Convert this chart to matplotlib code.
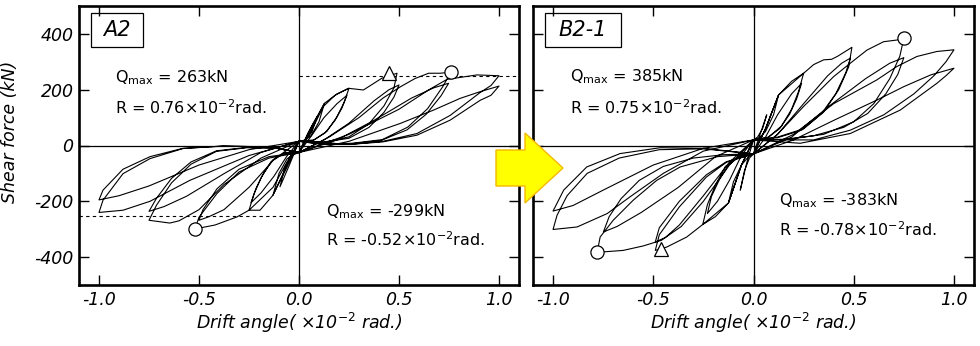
import matplotlib
matplotlib.use('Agg')
import matplotlib.pyplot as plt
from matplotlib.patches import Polygon, Rectangle

plt.rcParams['font.family'] = ['DejaVu Sans']
plt.rcParams['mathtext.fontset'] = 'dejavusans'
plt.rcParams['axes.unicode_minus'] = False

# ---- data: drift angle (x10^-2 rad) vs shear force (kN) ----
x_ticks = [-1.0, -0.5, 0.0, 0.5, 1.0]
x_tick_labels = ['-1.0', '-0.5', '0.0', '0.5', '1.0']
y_ticks = [-400, -200, 0, 200, 400]
y_tick_labels = ['-400', '-200', '0', '200', '400']

# specimen A2, one list per loading cycle
a2_c1 = [(0, -25), (0.045, 45), (0.09, 103), (0.065, 50), (0.035, 20), (0, 15),
         (-0.048, -70), (-0.095, -148), (-0.07, -75), (-0.035, -35), (0, -25)]
a2_c2 = [(0, -25), (0.064, 70), (0.127, 151), (0.1, 85), (0.06, 35), (0.025, 18), (0, 15),
         (-0.065, -85), (-0.13, -178), (-0.1, -100), (-0.06, -48), (-0.025, -30), (0, -25)]
a2_c3 = [(0, -25), (0.06, 55), (0.127, 151), (0.19, 185), (0.25, 205), (0.225, 154), (0.19, 103),
         (0.14, 51), (0.075, 20), (0, 15),
         (-0.06, -70), (-0.13, -178), (-0.195, -232), (-0.25, -232), (-0.225, -174), (-0.19, -116),
         (-0.14, -58), (-0.075, -28), (0, -25)]
a2_c4 = [(0, -25), (0.0625, 35), (0.125, 100), (0.19, 150), (0.24, 180), (0.215, 135), (0.18, 90),
         (0.13, 45), (0.07, 18), (0, 15),
         (-0.0625, -40), (-0.125, -110), (-0.19, -170), (-0.24, -205), (-0.215, -154), (-0.18, -103),
         (-0.13, -51), (-0.07, -25), (0, -25)]
a2_c5 = [(0, -25), (0.06, 50), (0.122, 140), (0.18, 180), (0.247, 205), (0.322, 199), (0.414, 241),
         (0.49, 259), (0.475, 207), (0.425, 142), (0.35, 78), (0.25, 31), (0.125, 12), (0, 15),
         (-0.06, -60), (-0.13, -150), (-0.25, -232), (-0.31, -256), (-0.42, -285), (-0.52, -299),
         (-0.5, -257), (-0.41, -172), (-0.3, -95), (-0.15, -45), (0, -25)]
a2_c6 = [(0, -25), (0.125, 20), (0.25, 80), (0.375, 160), (0.45, 200), (0.5, 217),
         (0.475, 174), (0.425, 119), (0.35, 65), (0.25, 26), (0.125, 12), (0, 15),
         (-0.125, -50), (-0.25, -150), (-0.375, -230), (-0.45, -255), (-0.5, -268),
         (-0.48, -230), (-0.41, -155), (-0.3, -85), (-0.15, -40), (0, -25)]
a2_c7 = [(0, -25), (0.15, 30), (0.3, 100), (0.42, 170), (0.506, 210), (0.58, 240), (0.648, 259),
         (0.706, 259), (0.76, 263),
         (0.718, 210), (0.643, 132), (0.544, 66), (0.416, 21), (0.265, 8), (0.113, 5), (0, 15),
         (-0.19, -45), (-0.375, -140), (-0.5, -230), (-0.6, -270), (-0.646, -278), (-0.75, -268),
         (-0.7125, -214), (-0.6375, -134), (-0.54, -67), (-0.4125, -21), (-0.2625, -8),
         (-0.1125, -10), (0, -25)]
a2_c8 = [(0, -25), (0.19, 20), (0.375, 90), (0.5625, 170), (0.675, 207), (0.748, 223),
         (0.71, 178), (0.636, 112), (0.54, 56), (0.41, 18), (0.26, 6), (0.11, 5), (0, 15),
         (-0.19, -25), (-0.375, -101), (-0.5625, -182), (-0.675, -219), (-0.75, -236),
         (-0.7125, -189), (-0.6375, -118), (-0.54, -59), (-0.4125, -19), (-0.2625, -7),
         (-0.1125, -8), (0, -25)]
a2_c9 = [(0, -25), (0.25, 40), (0.5, 130), (0.65, 200), (0.74, 237), (0.89, 253), (1.0, 250),
         (0.96, 215), (0.906, 190), (0.756, 108), (0.59, 43), (0.42, 15), (0.255, 4), (0, 15),
         (-0.25, -36), (-0.546, -125), (-0.745, -200), (-0.88, -232), (-1.0, -240),
         (-0.98, -196), (-0.88, -101), (-0.745, -47), (-0.58, -11), (-0.38, -2), (-0.15, -5), (0, -25)]
a2_c10 = [(0, -25), (0.25, 15), (0.506, 79), (0.673, 127), (0.806, 169), (0.906, 193), (1.0, 213),
          (0.96, 180), (0.906, 162), (0.756, 91), (0.59, 37), (0.42, 13), (0.255, 4), (0, 15),
          (-0.25, -15), (-0.5, -70), (-0.75, -145), (-0.9, -180), (-1.0, -195),
          (-0.98, -160), (-0.88, -85), (-0.745, -40), (-0.58, -10), (-0.38, -2), (-0.15, -5), (0, -25)]

# specimen B2-1
b2_c1 = [(0, -30), (0.033, 40), (0.066, 110), (0.045, 60), (0.02, 30), (0, 20),
         (-0.033, -60), (-0.066, -160), (-0.045, -90), (-0.02, -45), (0, -30)]
b2_c2 = [(0, -30), (0.06, 60), (0.125, 181), (0.1, 110), (0.06, 50), (0.025, 25), (0, 20),
         (-0.06, -70), (-0.125, -206), (-0.1, -130), (-0.06, -70), (-0.025, -40), (0, -30)]
b2_c3 = [(0, -30), (0.06, 60), (0.125, 181), (0.19, 230), (0.25, 259), (0.225, 194), (0.19, 130),
         (0.14, 70), (0.075, 30), (0, 20),
         (-0.06, -70), (-0.125, -206), (-0.19, -255), (-0.253, -283), (-0.23, -212), (-0.19, -142),
         (-0.14, -75), (-0.075, -40), (0, -30)]
b2_c4 = [(0, -30), (0.06, 30), (0.12, 110), (0.19, 185), (0.24, 223), (0.215, 167), (0.18, 112),
         (0.13, 60), (0.07, 28), (0, 20),
         (-0.06, -35), (-0.12, -125), (-0.18, -200), (-0.23, -244), (-0.21, -183), (-0.17, -122),
         (-0.125, -70), (-0.07, -40), (0, -30)]
b2_c5 = [(0, -30), (0.06, 60), (0.125, 181), (0.25, 259), (0.3, 290), (0.35, 307), (0.39, 309),
         (0.42, 320), (0.491, 352),
         (0.475, 282), (0.425, 200), (0.35, 120), (0.25, 60), (0.12, 30), (0, 20),
         (-0.06, -70), (-0.125, -206), (-0.253, -283), (-0.333, -328), (-0.433, -364), (-0.49, -376),
         (-0.47, -320), (-0.37, -220), (-0.235, -113), (-0.135, -60), (0, -30)]
b2_c6 = [(0, -30), (0.12, 40), (0.25, 150), (0.37, 250), (0.44, 295), (0.483, 313),
         (0.46, 260), (0.41, 185), (0.34, 115), (0.24, 55), (0.12, 28), (0, 20),
         (-0.12, -60), (-0.25, -180), (-0.37, -285), (-0.44, -330), (-0.49, -346),
         (-0.47, -295), (-0.37, -200), (-0.235, -105), (-0.135, -58), (0, -30)]
b2_c7 = [(0, -30), (0.12, 40), (0.25, 140), (0.4, 247), (0.483, 295), (0.566, 342), (0.649, 372),
         (0.715, 378), (0.75, 385),
         (0.73, 320), (0.68, 240), (0.6, 150), (0.5, 85), (0.35, 40), (0.17, 22), (0, 20),
         (-0.12, -70), (-0.25, -200), (-0.36, -290), (-0.46, -340), (-0.55, -360), (-0.65, -376),
         (-0.78, -383),
         (-0.765, -328), (-0.7, -268), (-0.6, -196), (-0.483, -125), (-0.366, -77), (-0.18, -40), (0, -30)]
b2_c8 = [(0, -30), (0.19, 30), (0.375, 140), (0.56, 240), (0.68, 295), (0.75, 315),
         (0.72, 255), (0.66, 185), (0.57, 115), (0.45, 65), (0.3, 35), (0.15, 22), (0, 20),
         (-0.19, -40), (-0.375, -150), (-0.56, -240), (-0.68, -290), (-0.749, -310),
         (-0.72, -255), (-0.66, -190), (-0.57, -125), (-0.45, -75), (-0.3, -45), (-0.15, -33), (0, -30)]
b2_c9 = [(0, -30), (0.2, 40), (0.4, 150), (0.615, 235), (0.715, 283), (0.815, 319), (0.915, 337),
         (1.0, 343),
         (0.96, 300), (0.9, 250), (0.8, 185), (0.65, 110), (0.483, 55), (0.3, 20), (0, 20),
         (-0.25, -20), (-0.45, -100), (-0.616, -184), (-0.73, -244), (-0.88, -292), (-1.0, -301),
         (-0.98, -250), (-0.93, -180), (-0.83, -100), (-0.67, -45), (-0.47, -15), (-0.25, -12), (0, -30)]
b2_c10 = [(0, -30), (0.2, 20), (0.4, 90), (0.616, 163), (0.75, 211), (0.884, 253), (1.0, 277),
          (0.96, 250), (0.915, 223), (0.732, 127), (0.483, 43), (0.233, 8), (0, 20),
          (-0.25, -10), (-0.5, -70), (-0.75, -160), (-0.9, -215), (-1.0, -235),
          (-0.947, -160), (-0.832, -77), (-0.666, -29), (-0.466, -8), (-0.25, -10), (0, -30)]

a2_cycles = [a2_c1, a2_c2, a2_c3, a2_c4, a2_c5, a2_c6, a2_c7, a2_c8, a2_c9, a2_c10]
b2_cycles = [b2_c1, b2_c2, b2_c3, b2_c4, b2_c5, b2_c6, b2_c7, b2_c8, b2_c9, b2_c10]

# max points (circles) and triangles
a2_circles = [(0.76, 263), (-0.52, -299)]
a2_triangles = [(0.45, 259)]
b2_circles = [(0.75, 385), (-0.78, -383)]
b2_triangles = [(-0.46, -370)]
a2_dash_levels = [250, -252]

a2_notes = [r'Q$_{\rm max}$ = 263kN', r'R = 0.76×10$^{-2}$rad.',
            r'Q$_{\rm max}$ = -299kN', r'R = -0.52×10$^{-2}$rad.']
b2_notes = [r'Q$_{\rm max}$ = 385kN', r'R = 0.75×10$^{-2}$rad.',
            r'Q$_{\rm max}$ = -383kN', r'R = -0.78×10$^{-2}$rad.']


fig = plt.figure(figsize=(9.8, 3.46), dpi=100)
W, H = 980.0, 346.0
ax1 = fig.add_axes([79 / W, 1 - 285 / H, 440 / W, 279 / H])
ax2 = fig.add_axes([533 / W, 1 - 285 / H, 441 / W, 279 / H])


def draw_panel(ax, cycles, circles, triangles, name, box_x1):
    xs, ys = [], []
    for cyc in cycles:
        for x, y in cyc:
            xs.append(x)
            ys.append(y)
    ax.axhline(0, color='k', lw=0.9, zorder=1)
    ax.axvline(0, color='k', lw=0.9, zorder=1)
    ax.plot(xs, ys, color='k', lw=0.8, zorder=2)
    ax.plot([p[0] for p in circles], [p[1] for p in circles], 'o', ms=9.5,
            mfc='white', mec='k', mew=0.9, zorder=3)
    ax.plot([p[0] for p in triangles], [p[1] for p in triangles], '^', ms=10,
            mfc='white', mec='k', mew=0.9, zorder=3)

    ax.set_xlim(-1.1, 1.1)
    ax.set_ylim(-500, 500)
    ax.set_xticks(x_ticks)
    ax.set_xticklabels(x_tick_labels, fontsize=12.5, style='italic')
    ax.set_yticks(y_ticks)
    ax.tick_params(direction='in', length=7, width=1, top=True, right=True, pad=4)
    for s in ax.spines.values():
        s.set_linewidth(1.9)
    ax.set_xlabel(r'Drift angle( ×10$^{\mathit{-2}}$ rad.)', fontsize=12.5, style='italic',
                  labelpad=2)

    # specimen tag in a box
    ax.add_patch(Rectangle((0.027, 0.852), box_x1 - 0.027, 0.124, transform=ax.transAxes,
                           fill=False, ec='k', lw=0.9, zorder=4))
    ax.text((0.027 + box_x1) / 2, 0.914, name, transform=ax.transAxes, fontsize=15,
            style='italic', ha='center', va='center')


draw_panel(ax1, a2_cycles, a2_circles, a2_triangles, 'A2', 0.145)
draw_panel(ax2, b2_cycles, b2_circles, b2_triangles, 'B2-1', 0.199)

ax1.set_yticklabels(y_tick_labels, fontsize=12.5, style='italic')
ax2.set_yticklabels([])
ax1.set_ylabel('Shear force (kN)', fontsize=12.5, style='italic')
ax1.yaxis.set_label_coords(-0.137, 0.55)

ax1.plot([0, 1.1], [a2_dash_levels[0]] * 2, color='k', lw=0.8, ls=(0, (3, 3)), zorder=1)
ax1.plot([-1.1, 0], [a2_dash_levels[1]] * 2, color='k', lw=0.8, ls=(0, (3, 3)), zorder=1)

# annotations
ax1.text(-0.92, 243, a2_notes[0], fontsize=11.5, va='center')
ax1.text(-0.92, 137, a2_notes[1], fontsize=11.5, va='center')
ax1.text(0.135, -236, a2_notes[2], fontsize=11.5, va='center')
ax1.text(0.135, -338, a2_notes[3], fontsize=11.5, va='center')
ax2.text(-0.915, 248, b2_notes[0], fontsize=11.5, va='center')
ax2.text(-0.915, 137, b2_notes[1], fontsize=11.5, va='center')
ax2.text(0.128, -197, b2_notes[2], fontsize=11.5, va='center')
ax2.text(0.128, -300, b2_notes[3], fontsize=11.5, va='center')

# yellow arrow between the panels (figure pixels, y down)
arrow_px = [(496, 150), (525, 150), (525, 133), (563, 168), (525, 203), (525, 186), (496, 186)]
arrow = Polygon([(x / W, 1 - y / H) for x, y in arrow_px], closed=True, transform=fig.transFigure,
                fc='#FFFF00', ec='#F5B800', lw=1.0, zorder=10)
fig.add_artist(arrow)

fig.savefig('out.png', dpi=100)
